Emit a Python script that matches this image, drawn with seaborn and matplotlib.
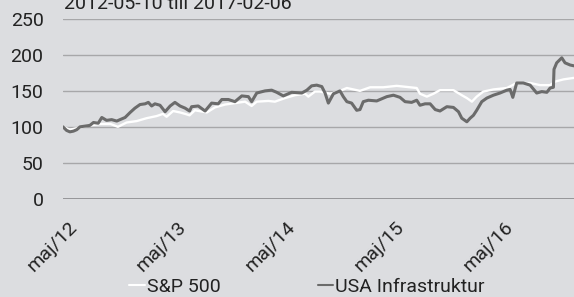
import matplotlib
matplotlib.use("Agg")
import matplotlib.pyplot as plt
import matplotlib.transforms as mtransforms
from matplotlib.lines import Line2D
import seaborn as sns
import pandas as pd

# Both series indexed to 100 on 2012-05-10
infra_dates = [
    "2012-05-10", "2012-05-22", "2012-06-02", "2012-06-14", "2012-06-25",
    "2012-07-06", "2012-07-23", "2012-08-08", "2012-08-20", "2012-09-05",
    "2012-09-17", "2012-10-03", "2012-10-20", "2012-11-06", "2012-11-17",
    "2012-12-04", "2012-12-21", "2013-01-06", "2013-01-23", "2013-02-09",
    "2013-02-20", "2013-03-03", "2013-03-14", "2013-03-31", "2013-04-17",
    "2013-05-04", "2013-05-20", "2013-06-06", "2013-06-23", "2013-07-08",
    "2013-07-15", "2013-08-06", "2013-08-29", "2013-09-20", "2013-10-12",
    "2013-10-24", "2013-11-15", "2013-12-07", "2013-12-30", "2014-01-21",
    "2014-02-01", "2014-02-18", "2014-03-18", "2014-04-09", "2014-04-26",
    "2014-05-18", "2014-06-15", "2014-07-19", "2014-08-05", "2014-08-21",
    "2014-09-07", "2014-09-24", "2014-10-05", "2014-10-16", "2014-11-02",
    "2014-11-24", "2014-12-05", "2014-12-17", "2015-01-02", "2015-01-19",
    "2015-01-30", "2015-02-10", "2015-02-27", "2015-03-27", "2015-04-30",
    "2015-05-22", "2015-06-13", "2015-06-30", "2015-07-22", "2015-08-08",
    "2015-08-19", "2015-09-05", "2015-09-22", "2015-10-09", "2015-10-25",
    "2015-11-17", "2015-12-09", "2015-12-26", "2016-01-06", "2016-01-23",
    "2016-02-03", "2016-02-14", "2016-02-25", "2016-03-13", "2016-03-30",
    "2016-04-21", "2016-05-13", "2016-06-05", "2016-06-16", "2016-06-25",
    "2016-07-08", "2016-07-30", "2016-08-22", "2016-09-13", "2016-09-30",
    "2016-10-17", "2016-10-28", "2016-11-08", "2016-11-10", "2016-11-19",
    "2016-12-06", "2016-12-17", "2017-01-03", "2017-01-14", "2017-02-06",
]
infra_values = [
    100, 95, 93, 94, 96,
    100, 101, 102, 106, 105,
    113, 109, 110, 108, 110,
    113, 120, 126, 131, 132,
    134, 129, 132, 130, 121,
    129, 134, 129, 126, 122,
    128, 129, 122, 133, 132,
    138, 138, 135, 143, 142,
    135, 147, 150, 151, 148,
    143, 148, 147, 151, 157,
    158, 156, 147, 133, 146,
    150, 142, 135, 133, 123,
    124, 135, 137, 136, 142,
    144, 141, 135, 134, 137,
    130, 132, 132, 124, 122,
    128, 127, 121, 112, 107,
    112, 116, 123, 135, 140,
    144, 147, 151, 152, 141,
    161, 161, 158, 147, 149,
    148, 154, 155, 180, 189,
    196, 189, 186, 185, 184,
]

sp_dates = [
    "2012-05-10", "2012-06-02", "2012-07-06", "2012-08-08", "2012-09-13",
    "2012-10-16", "2012-11-10", "2012-12-09", "2013-01-12", "2013-02-14",
    "2013-03-20", "2013-04-10", "2013-04-22", "2013-05-14", "2013-06-06",
    "2013-06-23", "2013-07-08", "2013-07-26", "2013-09-04", "2013-10-01",
    "2013-11-04", "2013-12-07", "2014-01-10", "2014-02-01", "2014-02-18",
    "2014-03-29", "2014-04-20", "2014-05-24", "2014-06-26", "2014-07-30",
    "2014-08-10", "2014-09-01", "2014-09-18", "2014-10-22", "2014-11-24",
    "2014-12-17", "2015-01-30", "2015-03-05", "2015-04-18", "2015-06-02",
    "2015-07-17", "2015-08-08", "2015-08-19", "2015-09-11", "2015-10-03",
    "2015-10-25", "2015-12-09", "2016-01-06", "2016-01-23", "2016-02-09",
    "2016-02-25", "2016-03-18", "2016-04-21", "2016-06-05", "2016-07-08",
    "2016-08-22", "2016-09-24", "2016-10-28", "2016-11-14", "2016-12-12",
    "2017-01-14", "2017-02-06",
]
sp_values = [
    100, 96, 99, 102, 104,
    104, 100, 106, 108, 112,
    115, 118, 114, 122, 120,
    118, 116, 123, 120, 127,
    131, 133, 135, 129, 135,
    136, 135, 140, 144, 146,
    142, 149, 149, 146, 150,
    154, 150, 155, 155, 157,
    155, 154, 146, 142, 146,
    151, 151, 144, 140, 135,
    142, 149, 152, 154, 161,
    161, 158, 158, 163, 166,
    168, 168,
]

tick_dates = ["2012-05-10", "2013-05-10", "2014-05-10", "2015-05-10", "2016-05-10"]
tick_labels = ["maj/12", "maj/13", "maj/14", "maj/15", "maj/16"]
y_ticks = [0, 50, 100, 150, 200, 250]

title = "2012-05-10 till 2017-02-06"
series_names = ["S&P 500", "USA Infrastruktur"]

bg = "#dcdde0"
infra_color = "#6b6b6b"
sp_color = "#ffffff"
grid_color = "#a7a7a9"
text_color = "#222222"
fs = 14

sns.set_theme(style="white")
plt.rcParams["font.family"] = ["Roboto", "DejaVu Sans"]

infra = pd.DataFrame({"date": pd.to_datetime(infra_dates), "value": infra_values})
sp = pd.DataFrame({"date": pd.to_datetime(sp_dates), "value": sp_values})

fig = plt.figure(figsize=(5.74, 2.97), dpi=100, facecolor=bg)
ax = fig.add_axes([63 / 574, 98.3 / 297, 1 - 63 / 574, 179.7 / 297])
ax.set_facecolor(bg)

for y in y_ticks[1:]:
    ax.axhline(y, color=grid_color, lw=1, zorder=0)
ax.axhline(0, color="#8a8a8c", lw=1.2, zorder=0)

sns.lineplot(data=sp, x="date", y="value", ax=ax, color=sp_color, lw=1.7)
sns.lineplot(data=infra, x="date", y="value", ax=ax, color=infra_color, lw=2.2)

ax.set_ylim(0, 250)
ax.set_xlim(pd.Timestamp("2012-05-10"), pd.Timestamp("2017-01-16"))
ax.set_yticks(y_ticks)
ax.set_xticks(pd.to_datetime(tick_dates))
ax.set_xticklabels(tick_labels, rotation=45, ha="right", rotation_mode="anchor")
ax.tick_params(axis="y", length=0, pad=14, labelsize=fs, colors=text_color)
ax.tick_params(axis="x", length=5, width=1, color=grid_color, pad=6,
               labelsize=fs, labelcolor=text_color, direction="out")
# nudge the rotated month labels down/right like the original
offset = mtransforms.ScaledTranslation(5 / 100, -4 / 100, fig.dpi_scale_trans)
for lbl in ax.get_xticklabels():
    lbl.set_transform(lbl.get_transform() + offset)
ax.set_xlabel("")
ax.set_ylabel("")
for s in ax.spines.values():
    s.set_visible(False)

fig.text(64 / 574, 1 - 9 / 297, title, fontsize=fs, color=text_color,
         va="baseline", ha="left")

handles = [Line2D([], [], color=sp_color, lw=1.5),
           Line2D([], [], color=infra_color, lw=1.5)]
fig.legend(handles, series_names, loc="center", ncol=2,
           bbox_to_anchor=(307 / 574, 1 - 287 / 297), frameon=False,
           fontsize=fs, handlelength=0.8, handletextpad=0.1,
           columnspacing=5.0, borderpad=0, labelcolor=text_color)

fig.savefig("out.png", dpi=100, facecolor=bg)
